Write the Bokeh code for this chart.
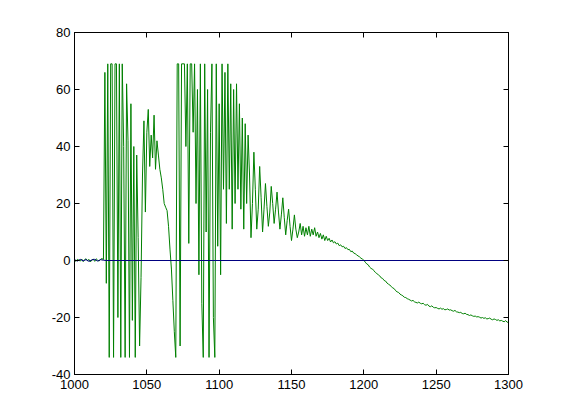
from bokeh.plotting import figure
from bokeh.models import LinearAxis, Range1d, FixedTicker
from bokeh.embed import file_html
from bokeh.resources import INLINE

# ---- data ----
x_start = 1000
green_y = [
    0.2, -0.3, 0.4, 0.1, -0.2, 0.5, -0.4, 0.3, 0.6, -0.1,
    0.4, -0.5, 0.2, 0.5, -0.3, 0.6, 0.1, -0.2, 0.4, 0.7,
    0.3, 66, -8, 69, -34, 69, 69, -34, 69, 69,
    -20, 69, -34, 69, 40, -34, 62, 42, -34, 55,
    -21, 40, -34, 37, 8, -30, -6, 30, 49, 17,
    45, 53, 33, 44, 36, 51, 32, 42, 37, 32,
    29, 25, 20, 18.7, 17.5, 12, 4, -3, -14, -25,
    -34, 69, 69, -30, 69, 69, 69, 40, 69, 6,
    69, 69, 45, 69, 20, 60, -5, 69, -15, -34,
    69, 10, 60, -34, 45, 69, -20, -34, 69, 5,
    55, -5, 69, 25, 66, 13, 69, 25, 62, 11,
    60, 20, 62, 25, 55, 18, 50, 11, 48, 20,
    44, 30, 8, 20, 38, 25, 11, 18, 33, 22,
    10, 18, 27, 19, 12, 17, 26, 20, 13, 18,
    24, 17, 11, 16, 22, 15, 9, 14, 18, 12,
    7, 11, 16, 11, 8, 10, 13, 9, 12, 8.5,
    11.5, 9, 12, 8.5, 11, 9, 11.5, 8.5, 10, 8,
    9.5, 7.5, 9, 7, 8.5, 7, 7.8, 6.5, 7.2, 6.2,
    6.6, 5.8, 6.1, 5.2, 5.5, 4.8, 5, 4.2, 4.5, 3.8,
    3.9, 3.1, 3.3, 2.6, 2.4, 2.0, 1.6, 1.3, 0.8, 0.5,
    0.1, -0.6, -1.2, -1.5, -2.3, -2.8, -3.0, -3.6, -4.2, -4.6,
    -5.0, -5.4, -6.1, -6.3, -7.0, -7.2, -7.9, -8.3, -8.6, -9.2,
    -9.6, -9.9, -10.6, -11.0, -11.2, -11.8, -12.1, -12.4, -12.9, -13.0,
    -13.4, -13.6, -13.9, -14.2, -14.0, -14.5, -14.7, -14.9, -14.6, -15.0,
    -15.2, -15.0, -15.5, -15.7, -15.4, -16.0, -16.2, -15.9, -16.4, -16.6,
    -16.5, -16.8, -17.0, -16.7, -17.1, -16.9, -17.3, -17.2, -17.0, -17.4,
    -17.3, -17.6, -17.8, -17.5, -18.0, -18.1, -18.3, -18.2, -18.6, -18.7,
    -18.5, -18.9, -19.0, -19.3, -19.1, -19.4, -19.6, -19.5, -19.8, -19.7,
    -19.9, -20.2, -20.0, -20.3, -20.1, -20.5, -20.4, -20.2, -20.6, -20.8,
    -20.5, -20.7, -21.0, -20.8, -21.2, -21.0, -21.3, -21.5, -21.1, -21.6,
    -21.8,
]
green_x = list(range(x_start, x_start + len(green_y)))

blue_x = [1000, 1002, 1004, 1006, 1008, 1010, 1012, 1014, 1016, 1018, 1020, 1022, 1300]
blue_y = [0.3, -0.2, 0.4, -0.1, 0.3, -0.3, 0.2, 0.4, -0.2, 0.3, 0.1, 0, 0]

x_ticks = [1000, 1050, 1100, 1150, 1200, 1250, 1300]
x_labels = ["1000", "1050", "1100", "1150", "1200", "1250", "1300"]
y_ticks = [-40, -20, 0, 20, 40, 60, 80]
y_labels = ["-40", "-20", "0", "20", "40", "60", "80"]

FONT = "Liberation Sans"

p = figure(width=553, height=412,
           x_range=Range1d(1000, 1300), y_range=Range1d(-40, 80),
           output_backend="svg", toolbar_location=None,
           min_border_left=74, min_border_right=45,
           min_border_top=32, min_border_bottom=38)
p.background_fill_color = "white"
p.border_fill_color = "white"
p.outline_line_color = "black"
p.xgrid.visible = False
p.ygrid.visible = False

p.line(green_x, green_y, line_color="#008000", line_width=1)
p.line(blue_x, blue_y, line_color="#000080", line_width=1)

def style(ax, ticks, labels, show=True):
    ax.ticker = FixedTicker(ticks=ticks)
    ax.major_label_overrides = {t: l for t, l in zip(ticks, labels)}
    ax.major_tick_in = 5
    ax.major_tick_out = 0
    ax.minor_tick_line_color = None
    ax.axis_line_color = "black"
    ax.major_tick_line_color = "black"
    ax.major_label_text_font = FONT
    ax.major_label_text_font_size = "13px"
    ax.major_label_text_color = "black" if show else None
    ax.major_label_standoff = 4

style(p.xaxis[0], x_ticks, x_labels)
style(p.yaxis[0], y_ticks, y_labels)
p.xaxis[0].major_label_standoff = 5

top = LinearAxis()
style(top, x_ticks, x_labels, show=False)
p.add_layout(top, "above")
right = LinearAxis()
style(right, y_ticks, y_labels, show=False)
p.add_layout(right, "right")

open("out.html", "w").write(file_html(p, INLINE))
